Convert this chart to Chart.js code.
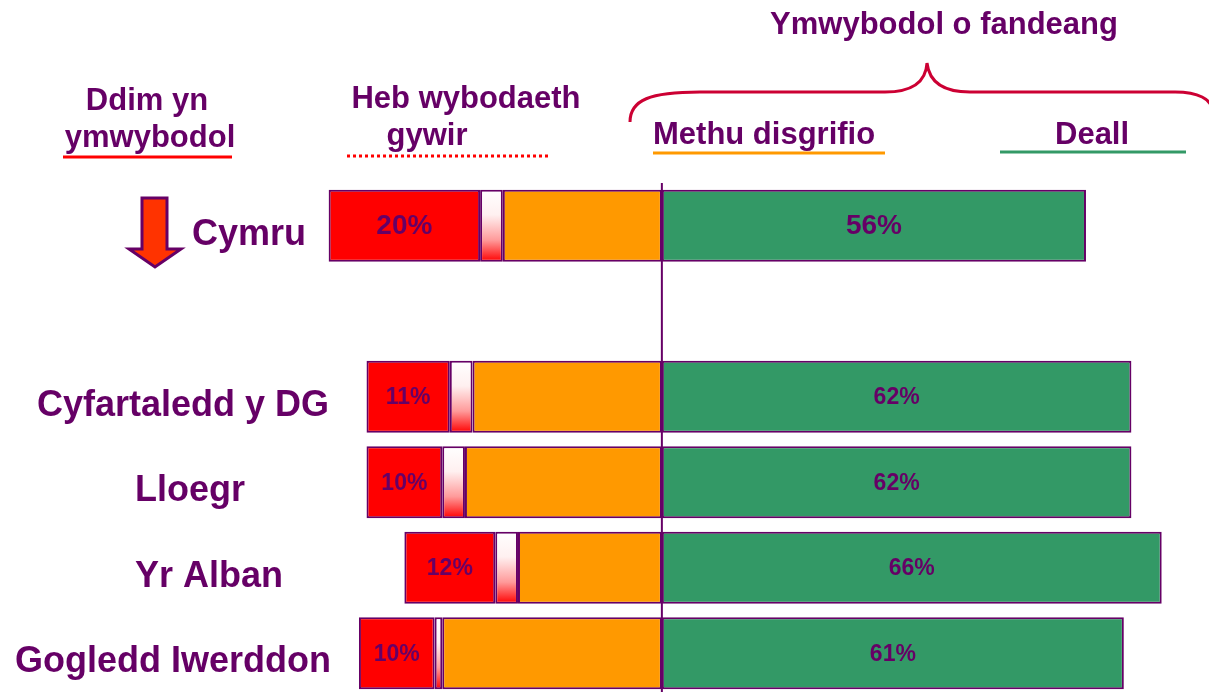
<!DOCTYPE html>
<html>
<head>
<meta charset="utf-8">
<script src="https://cdn.jsdelivr.net/npm/chart.js@4"></script>
<style>
  html, body { margin: 0; padding: 0; background: #fff; overflow: hidden; }
  canvas { display: block; }
</style>
</head>
<body>
<canvas id="awarenessChart" width="1209" height="700"></canvas>
<script>
// Gwerthoedd (%) fesul gwlad - blank row keeps the gap under Cymru
const categories = ['Cymru', '', 'Cyfartaledd y DG', 'Lloegr', 'Yr Alban', 'Gogledd Iwerddon'];
const notAware = [20, null, 11, 10, 12, 10];       // Ddim yn ymwybodol
const noCorrectInfo = [3, null, 3, 3, 3, 1];        // Heb wybodaeth gywir
const cannotDescribe = [21, null, 25, 26, 19, 29];  // Methu disgrifio
const understand = [56, null, 62, 62, 66, 61];      // Deall

const purple = '#660066';
const headFont = 'bold 31px "Liberation Sans", Arial, sans-serif';
const rowFont = 'bold 36px "Liberation Sans", Arial, sans-serif';

function negate(arr) {
    return arr.map(v => v === null ? null : -v);
}

// white-to-red fill for the thin "heb wybodaeth" segment
function gradientFill(context) {
    const chart = context.chart;
    const yScale = chart.scales.y;
    if (!yScale || context.type !== 'data') return '#ff9999';
    const yc = yScale.getPixelForValue(context.dataIndex);
    if (!isFinite(yc)) return '#ff9999';
    const g = chart.ctx.createLinearGradient(0, yc - 36, 0, yc + 36);
    g.addColorStop(0, '#ffffff');
    g.addColorStop(0.35, '#fff0f0');
    g.addColorStop(0.7, '#ff9a9a');
    g.addColorStop(1, '#ff0000');
    return g;
}

// headings, brace, underlines, arrow and centre line
const decorations = {
    id: 'decorations',
    afterDatasetsDraw(chart) {
        const ctx = chart.ctx;
        const x0 = chart.scales.x.getPixelForValue(0);
        const yScale = chart.scales.y;
        ctx.save();

        // centre line
        ctx.strokeStyle = purple;
        ctx.lineWidth = 2;
        ctx.beginPath();
        ctx.moveTo(x0, 183);
        ctx.lineTo(x0, 700);
        ctx.stroke();

        // data labels in red and green segments
        const labelSets = [[2, notAware], [3, understand]];
        ctx.fillStyle = purple;
        ctx.textAlign = 'center';
        ctx.textBaseline = 'middle';
        labelSets.forEach(([dsIndex, values]) => {
            chart.getDatasetMeta(dsIndex).data.forEach((bar, i) => {
                if (values[i] === null) return;
                ctx.font = (i === 0 ? 'bold 28px' : 'bold 23px') + ' "Liberation Sans", Arial, sans-serif';
                ctx.fillText(values[i] + '%', (bar.x + bar.base) / 2, bar.y + 1);
            });
        });

        // row labels
        const labelX = [192, 0, 37, 135, 135, 15];
        ctx.font = rowFont;
        ctx.textAlign = 'left';
        ctx.textBaseline = 'alphabetic';
        categories.forEach((name, i) => {
            if (!name) return;
            const y = yScale.getPixelForValue(i);
            ctx.fillText(name, labelX[i], y + 19, 326);
        });

        // headings
        ctx.font = headFont;
        ctx.textAlign = 'center';
        ctx.fillText('Ymwybodol o fandeang', 944, 34);
        ctx.fillText('Ddim yn', 147, 110);
        ctx.fillText('ymwybodol', 150, 147);
        ctx.fillText('Heb wybodaeth', 466, 108);
        ctx.fillText('gywir', 427, 145);
        ctx.textAlign = 'left';
        ctx.fillText('Methu disgrifio', 653, 144);
        ctx.fillText('Deall', 1055, 144);

        // underlines
        ctx.lineWidth = 3;
        ctx.strokeStyle = '#ff0000';
        ctx.beginPath(); ctx.moveTo(63, 157); ctx.lineTo(232, 157); ctx.stroke();
        ctx.setLineDash([3, 3]);
        ctx.beginPath(); ctx.moveTo(347, 156); ctx.lineTo(548, 156); ctx.stroke();
        ctx.setLineDash([]);
        ctx.strokeStyle = '#ff9900';
        ctx.beginPath(); ctx.moveTo(653, 153); ctx.lineTo(885, 153); ctx.stroke();
        ctx.strokeStyle = '#339966';
        ctx.beginPath(); ctx.moveTo(1000, 152); ctx.lineTo(1186, 152); ctx.stroke();

        // curly brace
        ctx.strokeStyle = '#cc0033';
        ctx.lineWidth = 3;
        ctx.beginPath();
        ctx.moveTo(630, 122);
        ctx.bezierCurveTo(630, 100, 650, 92, 700, 92);
        ctx.lineTo(885, 92);
        ctx.bezierCurveTo(915, 92, 926, 80, 927, 63);
        ctx.bezierCurveTo(929, 80, 940, 92, 970, 92);
        ctx.lineTo(1175, 92);
        ctx.bezierCurveTo(1200, 92, 1210, 100, 1212, 108);
        ctx.stroke();

        // arrow by Cymru
        ctx.fillStyle = '#ff3300';
        ctx.strokeStyle = purple;
        ctx.lineWidth = 3;
        ctx.beginPath();
        ctx.moveTo(142, 198);
        ctx.lineTo(167, 198);
        ctx.lineTo(167, 249);
        ctx.lineTo(181, 249);
        ctx.lineTo(155, 267);
        ctx.lineTo(129, 249);
        ctx.lineTo(142, 249);
        ctx.closePath();
        ctx.fill();
        ctx.stroke();

        ctx.restore();
    }
};

window.onload = function() {
    const ctx = document.getElementById('awarenessChart').getContext('2d');

    new Chart(ctx, {
        type: 'bar',
        data: {
            labels: categories,
            datasets: [
                { label: 'Methu disgrifio', data: negate(cannotDescribe), backgroundColor: '#ff9900' },
                { label: 'Heb wybodaeth gywir', data: negate(noCorrectInfo), backgroundColor: gradientFill },
                { label: 'Ddim yn ymwybodol', data: negate(notAware), backgroundColor: '#ff0000' },
                { label: 'Deall', data: understand, backgroundColor: '#339966' }
            ]
        },
        options: {
            indexAxis: 'y',
            responsive: false,
            animation: false,
            layout: { padding: { left: 56, right: 17, top: 183, bottom: 4 } },
            datasets: {
                bar: {
                    borderColor: purple,
                    borderWidth: 2,
                    borderSkipped: false,
                    barPercentage: 1,
                    categoryPercentage: 0.84
                }
            },
            scales: {
                x: { stacked: true, min: -80, max: 70, display: false },
                y: { stacked: true, display: false }
            },
            plugins: {
                legend: { display: false },
                tooltip: { enabled: false }
            }
        },
        plugins: [decorations]
    });
};
</script>
</body>
</html>
